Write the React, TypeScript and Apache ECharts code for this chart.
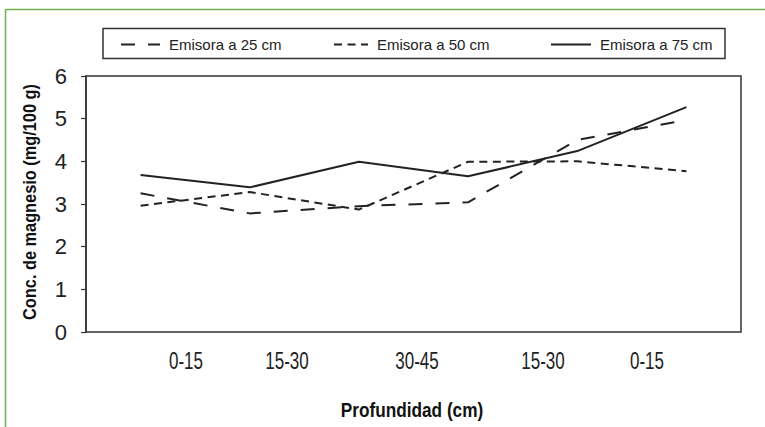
import React, { useEffect, useRef } from "react";
import * as echarts from "echarts";

const points = ["p1", "p2", "p3", "p4", "p5", "p6"];
const tickLabels = ["0-15", "15-30", "30-45", "15-30", "0-15"];
const seriesNames = ["Emisora a 25 cm", "Emisora a 50 cm", "Emisora a 75 cm"];
const emisora25 = [3.25, 2.78, 2.95, 3.04, 4.5, 4.97];
const emisora50 = [2.96, 3.28, 2.87, 3.99, 4.0, 3.77];
const emisora75 = [3.68, 3.39, 3.99, 3.65, 4.24, 5.27];
const yTicks = [0, 1, 2, 3, 4, 5, 6];
const xTitle = "Profundidad (cm)";
const yTitle = "Conc. de magnesio (mg/100 g)";

// layout (pixels)
const W = 765;
const H = 427;
const labelX = [186, 287, 417, 543, 647];
const legendLeft = [115, 328, 545];
const legendIconW = [39, 34, 40];

const FONT = "'Liberation Sans', Arial, sans-serif";
const INK = "#222";

export default function App() {
  const ref = useRef<HTMLDivElement>(null);
  useEffect(() => {
    if (!ref.current) return;
    const chart = echarts.init(ref.current, null, { renderer: "svg" });
    const lineStyles: any[] = [
      { type: [14, 13], width: 2, color: INK },
      { type: [8, 5.5], width: 2, color: INK },
      { type: "solid", width: 2, color: INK },
    ];
    const datas = [emisora25, emisora50, emisora75];
    chart.setOption({
      animation: false,
      backgroundColor: "#fff",
      textStyle: { fontFamily: FONT },
      grid: {
        left: 86,
        top: 76,
        right: 24,
        bottom: 95,
        show: true,
        borderColor: "#333",
        borderWidth: 1.5,
        backgroundColor: "transparent",
      },
      legend: seriesNames.map((n, i) => ({
        data: [n],
        left: legendLeft[i],
        top: 32,
        itemWidth: legendIconW[i],
        itemHeight: 14,
        itemStyle: { color: "transparent", borderWidth: 0, opacity: 0 },
        textStyle: {
          fontFamily: FONT,
          fontSize: 15,
          color: INK,
          padding: [0, 0, 0, 4],
        },
        selectedMode: false,
      })),
      xAxis: {
        type: "category",
        data: points,
        boundaryGap: true,
        axisLine: { show: false },
        axisTick: { show: false },
        axisLabel: { show: false },
        splitLine: { show: false },
      },
      yAxis: {
        type: "value",
        min: 0,
        max: 6,
        interval: 1,
        axisLine: { show: true, lineStyle: { color: "#333", width: 1.5 } },
        axisTick: { show: true, length: 5, lineStyle: { color: "#333", width: 1.2 } },
        axisLabel: {
          margin: 19,
          fontFamily: FONT,
          fontSize: 22,
          color: INK,
          formatter: (v: number) => (yTicks.includes(v) ? String(v) : ""),
        },
        splitLine: { show: false },
      },
      series: seriesNames.map((n, i) => ({
        name: n,
        type: "line",
        data: datas[i],
        symbol: "none",
        showSymbol: false,
        lineStyle: lineStyles[i],
        itemStyle: { color: INK },
      })),
      graphic: [
        {
          type: "line",
          shape: { x1: 5.5, y1: 9.5, x2: W, y2: 9.5 },
          style: { stroke: "#6fae4c", lineWidth: 1.5 },
        },
        {
          type: "line",
          shape: { x1: 5.5, y1: 9.5, x2: 5.5, y2: H },
          style: { stroke: "#6fae4c", lineWidth: 1.5 },
        },
        {
          type: "rect",
          shape: { x: 103, y: 28.5, width: 622, height: 30 },
          style: { fill: "transparent", stroke: "#333", lineWidth: 1.5 },
          z: -1,
        },
        ...tickLabels.map((t, i) => ({
          type: "text",
          x: labelX[i],
          y: 361,
          scaleX: 0.74,
          style: {
            text: t,
            fontFamily: FONT,
            fontSize: 23,
            fill: INK,
            align: "center",
            verticalAlign: "middle",
          },
        })),
        {
          type: "text",
          x: 412,
          y: 410,
          scaleX: 0.82,
          style: {
            text: xTitle,
            fontFamily: FONT,
            fontWeight: "bold",
            fontSize: 21,
            fill: "#111",
            align: "center",
            verticalAlign: "middle",
          },
        },
        {
          type: "text",
          x: 30,
          y: 202,
          rotation: Math.PI / 2,
          scaleX: 0.86,
          style: {
            text: yTitle,
            fontFamily: FONT,
            fontWeight: "bold",
            fontSize: 19,
            fill: "#111",
            align: "center",
            verticalAlign: "middle",
          },
        },
      ],
    });
    return () => chart.dispose();
  }, []);
  return (
    <div
      ref={ref}
      style={{ position: "fixed", left: 0, top: 0, width: W, height: H }}
    />
  );
}
